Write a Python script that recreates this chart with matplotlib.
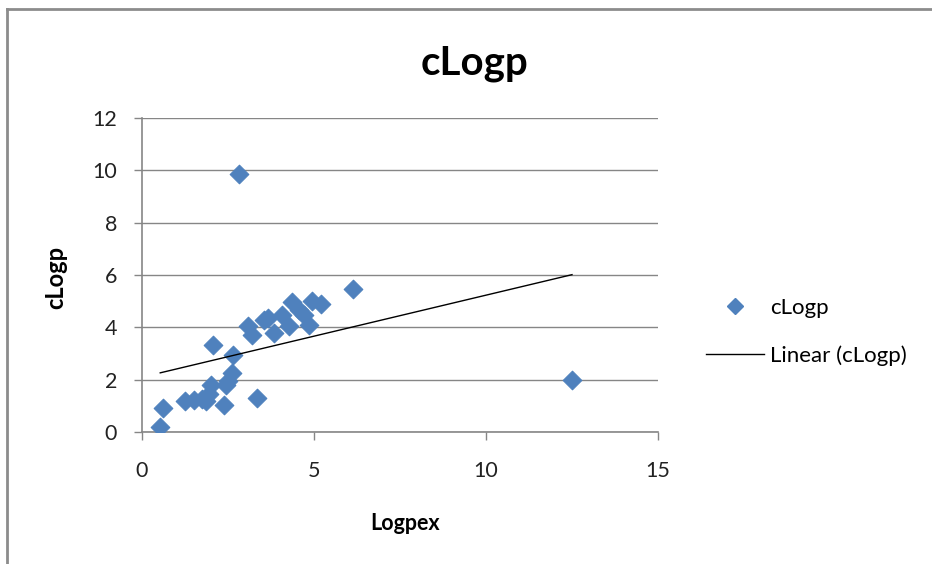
import matplotlib
matplotlib.use("Agg")
import matplotlib.pyplot as plt
from matplotlib.lines import Line2D
import numpy as np

logpex = [0.53, 0.62, 1.26, 1.52, 1.75, 1.86, 1.95, 2.00, 2.39, 2.44, 2.50, 2.61,
          2.65, 2.05, 3.34, 3.07, 3.21, 3.55, 3.65, 3.84, 4.08, 4.27, 4.37, 4.56,
          4.71, 4.85, 4.95, 5.19, 6.14, 2.81, 12.50]
clogp = [0.20, 0.90, 1.18, 1.22, 1.28, 1.20, 1.45, 1.78, 1.05, 1.80, 1.95, 2.24,
         2.94, 3.32, 1.31, 4.04, 3.72, 4.28, 4.36, 3.78, 4.48, 4.04, 4.96, 4.66,
         4.48, 4.10, 5.00, 4.90, 5.45, 9.85, 2.00]
x_ticks = [0, 5, 10, 15]
y_ticks = [0, 2, 4, 6, 8, 10, 12]

FONT = ["Lato", "DejaVu Sans"]
plt.rcParams['font.family'] = FONT

fig = plt.figure(figsize=(9.32, 5.64), dpi=100)
W, H = 932, 564
ax = fig.add_axes([142 / W, 1 - 432 / H, 516 / W, 314 / H])

blue = "#4F81BD"
grid = "#868686"

x = np.array(logpex)
y = np.array(clogp)
ax.scatter(x, y, marker="D", s=90, color=blue, edgecolors=blue, linewidths=0.8, zorder=3)

slope, intercept = np.polyfit(x, y, 1)
xl = np.array([x.min(), x.max()])
ax.plot(xl, slope * xl + intercept, color="black", lw=1.0, zorder=4)

ax.set_xlim(0, 15)
ax.set_ylim(0, 12)
ax.set_xticks(x_ticks)
ax.set_yticks(y_ticks)
ax.set_xticklabels([str(v) for v in x_ticks])
ax.set_yticklabels([str(v) for v in y_ticks])
ax.tick_params(axis="both", direction="out", length=6, width=1, color=grid,
               labelsize=15.5, labelcolor="#222222")
ax.tick_params(axis="x", pad=15)
ax.tick_params(axis="y", pad=12)
ax.yaxis.grid(True, color=grid, lw=1)
ax.set_axisbelow(True)
for s in ["top", "right"]:
    ax.spines[s].set_visible(False)
for s in ["left", "bottom"]:
    ax.spines[s].set_color(grid)
    ax.spines[s].set_linewidth(1.2)

fig.text(475 / W, 1 - 64 / H, "cLogp", ha="center", va="center",
         fontsize=29, fontweight="bold")
fig.text(405 / W, 1 - 523 / H, "Logpex", ha="center", va="center",
         fontsize=15.5, fontweight="bold")
fig.text(56 / W, 1 - 277 / H, "cLogp", ha="center", va="center",
         fontsize=17, fontweight="bold", rotation=90)

handles = [Line2D([], [], marker="D", ls="none", color=blue, markersize=8),
           Line2D([], [], color="black", lw=1.0)]
fig.legend(handles, ["cLogp", "Linear (cLogp)"], loc="center left",
           bbox_to_anchor=(706 / W, 1 - 332 / H), frameon=False, fontsize=16,
           handlelength=2.6, handletextpad=0.3, labelspacing=1.25,
           borderpad=0, borderaxespad=0)

# outer chart frame (left and top edges visible)
fig.add_artist(Line2D([7 / W, 7 / W], [0, 1 - 9 / H], color="#8c8c8c", lw=2.0,
                      transform=fig.transFigure))
fig.add_artist(Line2D([7 / W, 1], [1 - 9 / H, 1 - 9 / H], color="#8c8c8c", lw=2.0,
                      transform=fig.transFigure))

fig.savefig("out.png", dpi=100)
